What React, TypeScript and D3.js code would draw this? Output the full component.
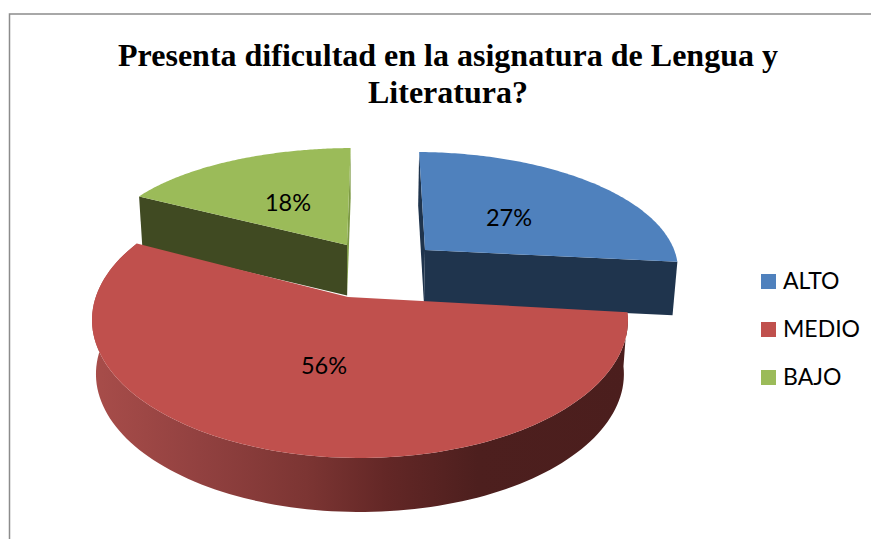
import React from "react";
import * as d3 from "d3";

const titleLines = ["Presenta dificultad en la asignatura de Lengua y", "Literatura?"];
const categories = ["ALTO", "MEDIO", "BAJO"];
const shares = [27, 56, 18];
const labels = ["27%", "56%", "18%"];
const topColors = ["#4f81bd", "#c0504d", "#9bbb59"];
const wallColors = ["#1f344d", "#4a1c1b", "#404a22"];

const W = 871, H = 539;
const rad = (deg: number) => (deg * Math.PI) / 180;
const slices = [
  { apex: [425, 250], ell: [415, 270, 263, 118], warp: [0.9, -10.2], depth: 52.5, label: [509, 226] },
  { apex: [348, 297], ell: [360, 320, 268, 138], warp: [-9.5, 7.8], depth: 54, label: [324, 374] },
  { apex: [347, 245], ell: [355, 248, 252, 100], warp: [5.2, -1], depth: 49.5, label: [288, 211] },
];

const VX = 355, VS = 0.985;
const down = (p: number[], d: number) => [VX + (p[0] - VX) * VS, p[1] + d];

const pieGen = d3.pie<number>().sort(null).value((d) => d);
const arcs = pieGen(shares);

function rim(i: number, t: number) {
  const [cx, cy, rx, ry] = slices[i].ell;
  const a = arcs[i];
  const [w0, w1] = slices[i].warp;
  const k = (t - a.startAngle) / (a.endAngle - a.startAngle);
  const phi = t + rad(w0 + (w1 - w0) * k);
  return [cx + rx * Math.sin(phi), cy - ry * Math.cos(phi)];
}
function rimPts(i: number) {
  const a = arcs[i];
  return d3.range(0, 121).map((n) => rim(i, a.startAngle + ((a.endAngle - a.startAngle) * n) / 120));
}
const line = d3.line();
const poly = (pts: number[][]) => line(pts as [number, number][]) + "Z";

const gradStops: [number, string][] = [
  [0, "#a84d4a"],
  [0.2, "#924140"],
  [0.4, "#7c3533"],
  [0.55, "#632726"],
  [0.72, "#4d1f1e"],
  [1, "#4b1e1d"],
];

export default function App() {
  return (
    <svg width={W} height={H} style={{ position: "absolute", left: 0, top: 0, background: "#fff" }}>
      <defs>
        <linearGradient id="redWall" x1="0" x2="1" y1="0" y2="0">
          {gradStops.map((s) => (
            <stop key={s[0]} offset={s[0]} stopColor={s[1]} />
          ))}
        </linearGradient>
      </defs>
      <path d={`M9.5,${H}V14H${W}`} fill="none" stroke="#8c8c8c" strokeWidth={1.5} />
      {titleLines.map((t, i) => (
        <text key={t} x={448} y={66 + i * 37} textAnchor="middle" fontFamily="'Liberation Serif'" fontWeight="bold" fontSize={32} fill="#000">
          {t}
        </text>
      ))}
      {[2, 0, 1].map((i) => {
        const pts = rimPts(i);
        const s = slices[i];
        const apexB = down(s.apex, s.depth + 1);
        const first = pts[0], last = pts[pts.length - 1];
        const outer = [...pts, ...pts.map((p) => down(p, s.depth)).reverse()];
        const startWall = [s.apex, first, down(first, s.depth + 1), apexB];
        const endWall = [s.apex, last, down(last, s.depth + 1), apexB];
        const wallFill = wallColors[i];
        return (
          <g key={categories[i]}>
            {i === 1 ? (
              <path d={poly(outer)} fill="url(#redWall)" />
            ) : (
              <>
                <path d={poly(i === 2 ? endWall : startWall)} fill={i === 2 ? "#7d9a45" : wallFill} />
                <path d={poly(i === 2 ? startWall : endWall)} fill={wallFill} />
              </>
            )}
            <path d={poly([s.apex, ...pts])} fill={topColors[i]} />
          </g>
        );
      })}
      {arcs.map((a, i) => (
        <text key={labels[i]} x={slices[i].label[0]} y={slices[i].label[1]} textAnchor="middle" fontFamily="Lato" fontSize={23.5} fill="#000">
          {labels[i]}
        </text>
      ))}
      {categories.map((c, i) => (
        <g key={c}>
          <rect x={761} y={274 + i * 48} width={15} height={15} fill={topColors[i]} />
          <text x={783} y={289 + i * 48} fontFamily="Lato" fontSize={23} fill="#000">
            {c}
          </text>
        </g>
      ))}
    </svg>
  );
}
